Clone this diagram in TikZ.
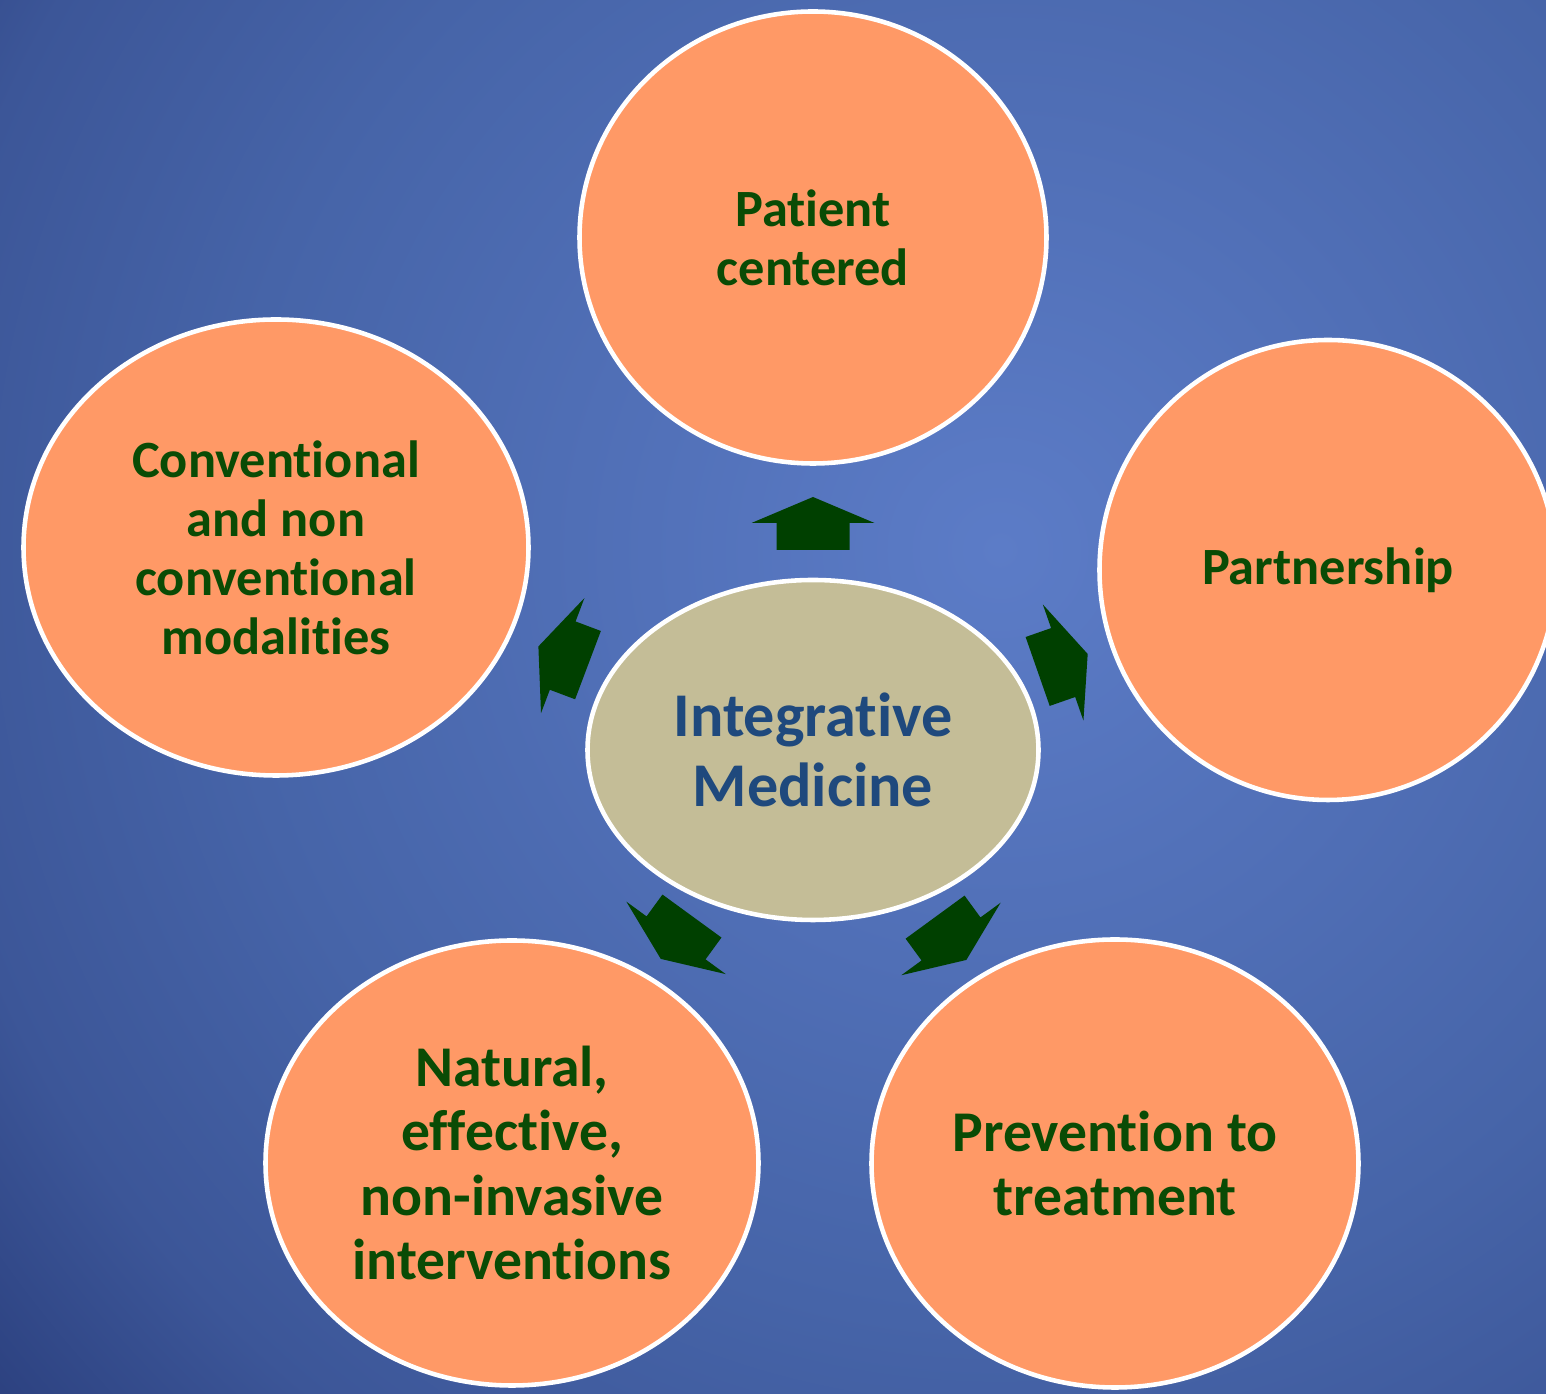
\documentclass[tikz,border=0pt]{standalone}
\usepackage{fontspec}
\setmainfont{Carlito}[Ligatures=NoCommon]
\usetikzlibrary{shapes.geometric, calc}

\definecolor{bgA}{RGB}{92,124,199}
\definecolor{bgB}{RGB}{70,100,168}
\definecolor{bgC}{RGB}{60,86,152}
\definecolor{bgD}{RGB}{41,61,123}
\definecolor{petal}{RGB}{255,153,102}
\definecolor{core}{RGB}{196,189,151}
\definecolor{leafgreen}{RGB}{10,75,5}
\definecolor{arrowgreen}{RGB}{0,64,0}
\definecolor{coreblue}{RGB}{31,73,125}

\pgfdeclareradialshading{bgshade}{\pgfpointorigin}{color(0bp)=(bgA); color(14.25bp)=(bgB); color(20bp)=(bgC); color(25bp)=(bgD); color(50bp)=(bgD)}

\tikzset{
  petalnode/.style = {ellipse, draw=white, line width=1.3pt, fill=petal, text=leafgreen,
    align=center, inner sep=0pt, font=\bfseries\fontsize{14.9}{16.8}\selectfont},
  bigpetal/.style = {font=\bfseries\fontsize{16.4}{18.3}\selectfont},
  corenode/.style = {ellipse, draw=white, line width=1.3pt, fill=core, text=coreblue,
    align=center, inner sep=0pt, font=\bfseries\fontsize{17.7}{19.9}\selectfont},
  pointer/.pic = {
    \fill[arrowgreen] (0,-0.365) -- (0.27,-0.365) -- (0.27,-0.615) -- (0.53,0)
      -- (0.27,0.615) -- (0.27,0.365) -- (0,0.365) -- cycle;
  }
}

\begin{document}
\begin{tikzpicture}
\useasboundingbox (0,0) rectangle (15.46,13.94);
\clip (0,0) rectangle (15.46,13.94);
\fill[bgD] (0,0) rectangle (15.46,13.94);
\shade[shading=bgshade] (10.0,8.44) circle (13.6);

\node[corenode, minimum width=4.51cm, minimum height=3.40cm] (im) at (8.13, 6.44) {Integrative\\Medicine};
\node[petalnode, minimum width=4.67cm, minimum height=4.52cm] (pc) at (8.13, 11.565) {Patient\\centered};
\node[petalnode, minimum width=4.57cm, minimum height=4.60cm] (pa) at (13.28, 8.24) {Partnership};
\node[petalnode, minimum width=5.05cm, minimum height=4.56cm] (cv) at (2.76, 8.465) {Conventional\\and non\\conventional\\modalities};
\node[petalnode, bigpetal, minimum width=4.93cm, minimum height=4.45cm] (nt) at (5.12, 2.31) {Natural,\\effective,\\non-invasive\\interventions};
\node[petalnode, bigpetal, minimum width=4.87cm, minimum height=4.48cm] (pv) at (11.15, 2.305) {Prevention to\\treatment};

\foreach \tgt/\gap in {pc/2.0cm, pa/2.38cm, cv/2.405cm, nt/2.055cm, pv/2.07cm}
  \path let \p1 = ($(\tgt)-(im)$), \n1 = {atan2(\y1,\x1)} in
    ($(im)!\gap!(\tgt)$) pic[rotate=\n1] {pointer};
\end{tikzpicture}
\end{document}
